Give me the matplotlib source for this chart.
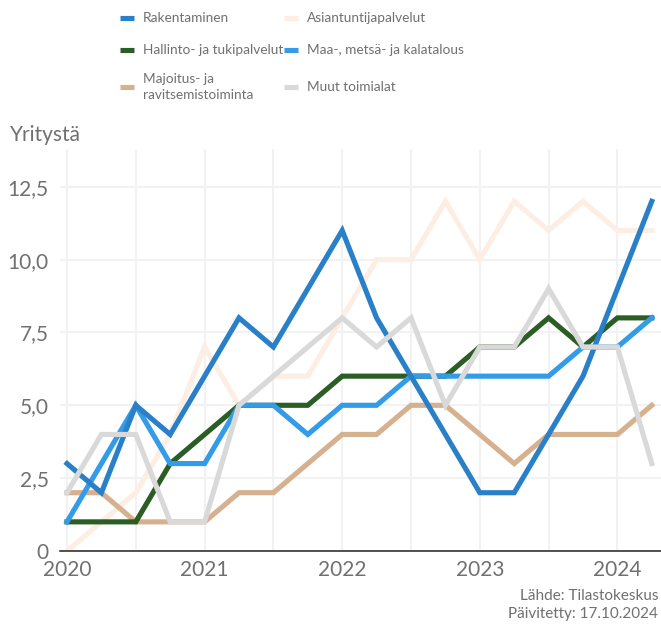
import matplotlib
matplotlib.use("Agg")
import matplotlib.pyplot as plt
from matplotlib.lines import Line2D

plt.rcParams['font.family'] = ['Lato', 'DejaVu Sans']

# quarters 2020Q1 .. 2024Q2
years = [2020, 2021, 2022, 2023, 2024]
quarters = [(y, q) for y in years for q in range(1, 5)][:18]

rakentaminen = [3, 2, 5, 4, 6, 8, 7, 9, 11, 8, 6, 4, 2, 2, 4, 6, 9, 12]
asiantuntija = [0, 1, 2, 4, 7, 5, 6, 6, 8, 10, 10, 12, 10, 12, 11, 12, 11, 11]
hallinto = [1, 1, 1, 3, 4, 5, 5, 5, 6, 6, 6, 6, 7, 7, 8, 7, 8, 8]
maa = [1, 3, 5, 3, 3, 5, 5, 4, 5, 5, 6, 6, 6, 6, 6, 7, 7, 8]
majoitus = [2, 2, 1, 1, 1, 2, 2, 3, 4, 4, 5, 5, 4, 3, 4, 4, 4, 5]
muut = [2, 4, 4, 1, 1, 5, 6, 7, 8, 7, 8, 5, 7, 7, 9, 7, 7, 3]

y_ticks = [0, 2.5, 5, 7.5, 10, 12.5]
y_tick_labels = ["0", "2,5", "5,0", "7,5", "10,0", "12,5"]

series = [
    ("Asiantuntijapalvelut", asiantuntija, "#fdeee3"),
    ("Majoitus- ja\nravitsemistoiminta", majoitus, "#d5b190"),
    ("Hallinto- ja tukipalvelut", hallinto, "#2a5e24"),
    ("Maa-, metsä- ja kalatalous", maa, "#339be8"),
    ("Rakentaminen", rakentaminen, "#2a80c8"),
    ("Muut toimialat", muut, "#d9d9d9"),
]

text_col = "#707070"
W, H = 661, 626

x = [y + (q - 1) / 4 for y, q in quarters]

fig = plt.figure(figsize=(W / 100, H / 100), dpi=100)
ax = fig.add_axes([60 / W, 75 / H, 601 / W, 402 / H])

for label, vals, col in series:
    ax.plot(x, vals, color=col, lw=3.7, solid_joinstyle='miter', zorder=3)

ax.set_xlim(2020 - 7 / 137.6, 2020 + 601 / 137.6 - 7 / 137.6)
ax.set_ylim(0, 402 / 29.14)

ax.set_xticks(years)
ax.set_xticklabels([str(y) for y in years])
ax.set_xticks([y + 0.5 for y in years[:-1]], minor=True)
ax.set_yticks(y_ticks)
ax.set_yticklabels(y_tick_labels)

ax.grid(True, which='both', axis='x', color='#f2f2f2', lw=1.5, zorder=0)
ax.grid(True, axis='y', color='#f2f2f2', lw=1.5, zorder=0)
ax.tick_params(axis='both', which='both', length=0, labelsize=15, labelcolor=text_col)
ax.tick_params(axis='x', pad=6.5)
ax.tick_params(axis='y', pad=8)
for s in ['top', 'right', 'left']:
    ax.spines[s].set_visible(False)
ax.spines['bottom'].set_color('#222222')
ax.spines['bottom'].set_linewidth(1.1)
ax.spines['bottom'].set_zorder(4)

fig.text(10 / W, 1 - 135 / H, "Yritystä", fontsize=15, color=text_col, va='center', ha='left')

# legend, two columns
legend_order = [
    ("Rakentaminen", "#2a80c8", 120, 18),
    ("Asiantuntijapalvelut", "#fdeee3", 284, 18),
    ("Hallinto- ja tukipalvelut", "#2a5e24", 120, 50),
    ("Maa-, metsä- ja kalatalous", "#339be8", 284, 50),
    ("Majoitus- ja\nravitsemistoiminta", "#d5b190", 120, 87),
    ("Muut toimialat", "#d9d9d9", 284, 87),
]
for label, col, hx, hy in legend_order:
    fy = 1 - hy / H
    fig.add_artist(Line2D([hx / W, (hx + 14) / W], [fy, fy], color=col, lw=3.7,
                          solid_capstyle='butt'))
    fig.text((hx + 23) / W, fy, label, fontsize=9.8, color=text_col, va='center',
             ha='left', linespacing=1.45)

fig.text(658 / W, 1 - 596 / H, "Lähde: Tilastokeskus", fontsize=11, color=text_col,
         ha='right', va='center')
fig.text(658 / W, 1 - 614 / H, "Päivitetty: 17.10.2024", fontsize=11, color=text_col,
         ha='right', va='center')

fig.savefig("out.png", dpi=100)
